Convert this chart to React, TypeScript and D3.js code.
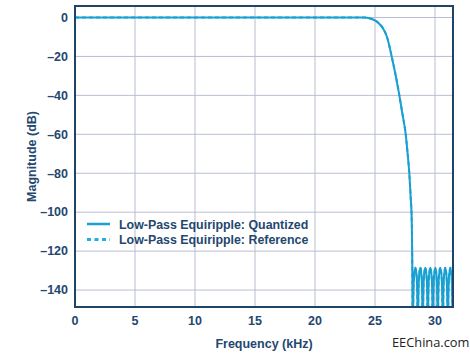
import React from "react";
import * as d3 from "d3";

const freqTicks = [0, 5, 10, 15, 20, 25, 30];
const magTicks = [0, -20, -40, -60, -80, -100, -120, -140];

// Quantized response: frequency (kHz) and magnitude (dB)
const quantFreq = [
  0, 24.0, 24.33, 24.6, 25.0, 25.35, 25.67, 26.0, 26.39, 26.7, 27.0, 27.3, 27.56, 27.72, 27.86, 27.97, 28.06, 28.1, 28.13, 28.15,
  28.19, 28.25, 28.36, 28.47, 28.53, 28.57,
  28.61, 28.67, 28.78, 28.88, 28.94, 28.98,
  29.02, 29.08, 29.19, 29.3, 29.36, 29.4,
  29.44, 29.5, 29.61, 29.72, 29.78, 29.82,
  29.86, 29.92, 30.03, 30.13, 30.19, 30.23,
  30.27, 30.33, 30.44, 30.55, 30.61, 30.65,
  30.69, 30.75, 30.86, 30.96, 31.02, 31.07,
  31.11, 31.17, 31.28, 31.38, 31.44, 31.48,
];
const quantMag = [
  0, 0, -0.1, -0.5, -1.5, -3.2, -5.6, -10, -20, -29, -39, -50, -60, -70, -80, -92, -104, -122, -150, -175,
  -145, -133, -128.5, -133, -145, -175,
  -145, -133, -128.5, -133, -145, -175,
  -145, -133, -128.5, -133, -145, -175,
  -145, -133, -128.5, -133, -145, -175,
  -145, -133, -128.5, -133, -145, -175,
  -145, -133, -128.5, -133, -145, -175,
  -145, -133, -128.5, -133, -145, -175,
  -145, -133, -128.5, -133, -145, -175,
];
// Reference response (coincides with quantized at this scale)
const refFreq = quantFreq;
const refMag = quantMag;

const seriesLabels = ["Low-Pass Equiripple: Quantized", "Low-Pass Equiripple: Reference"];

const W = 470;
const H = 356;
const L = 75, R = 453, T = 6, B = 307;
const navy = "#1e4468";
const textCol = "#23476f";
const lineCol = "#1a9fd1";
const gridCol = "#b9bdd0";
const font = "'Liberation Sans', Arial, Helvetica, sans-serif";

export default function App() {
  const x = d3.scaleLinear().domain([0, 31.5]).range([L, R]);
  const y = d3.scaleLinear().domain([5.9, -148.7]).range([T, B]);

  const line = d3
    .line<number>()
    .x((_, i) => x(quantFreq[i]))
    .y((d) => y(d))
    .curve(d3.curveMonotoneX);
  const refLine = d3
    .line<number>()
    .x((_, i) => x(refFreq[i]))
    .y((d) => y(d))
    .curve(d3.curveMonotoneX);

  return (
    <svg width={W} height={H} style={{ position: "absolute", left: 0, top: 0, background: "#fff" }}>
      <defs>
        <clipPath id="plot">
          <rect x={L} y={T} width={R - L} height={B - T} />
        </clipPath>
      </defs>
      <rect x={0} y={0} width={W} height={H} fill="#fff" />
      {/* grid */}
      {freqTicks.map((f) => (
        <line key={"gx" + f} x1={x(f)} x2={x(f)} y1={T} y2={B} stroke={gridCol} strokeWidth={1} />
      ))}
      {magTicks.map((m) => (
        <line key={"gy" + m} x1={L} x2={R} y1={y(m)} y2={y(m)} stroke={gridCol} strokeWidth={1} />
      ))}
      {/* curves */}
      <g clipPath="url(#plot)">
        <path d={refLine(refMag) || ""} fill="none" stroke="#22aee0" strokeWidth={2} strokeDasharray="4,3" />
        <path d={line(quantMag) || ""} fill="none" stroke={lineCol} strokeWidth={2} strokeLinejoin="round" />
      </g>
      {/* frame */}
      <rect x={L} y={T} width={R - L} height={B - T} fill="none" stroke={navy} strokeWidth={2} />
      {/* y tick labels */}
      {magTicks.map((m) => (
        <text
          key={"ty" + m}
          x={68}
          y={y(m) + 4.3}
          textAnchor="end"
          fontFamily={font}
          fontWeight="bold"
          fontSize={12.5}
          fill={textCol}
        >
          {m < 0 ? "\u2013" + Math.abs(m) : String(m)}
        </text>
      ))}
      {/* x tick labels */}
      {freqTicks.map((f) => (
        <text
          key={"tx" + f}
          x={x(f)}
          y={325}
          textAnchor="middle"
          fontFamily={font}
          fontWeight="bold"
          fontSize={12.5}
          fill={textCol}
        >
          {f}
        </text>
      ))}
      {/* axis titles */}
      <text x={(L + R) / 2} y={348} textAnchor="middle" fontFamily={font} fontWeight="bold" fontSize={12.5} fill={textCol}>
        Frequency (kHz)
      </text>
      <text
        transform={`translate(35.5,${(T + B) / 2}) rotate(-90)`}
        textAnchor="middle"
        fontFamily={font}
        fontWeight="bold"
        fontSize={12.5}
        fill={textCol}
      >
        Magnitude (dB)
      </text>
      {/* legend */}
      <line x1={87} x2={110} y1={224} y2={224} stroke={lineCol} strokeWidth={2.5} />
      <line x1={87} x2={110} y1={239.5} y2={239.5} stroke="#22aee0" strokeWidth={3} strokeDasharray="4,3.5" />
      {seriesLabels.map((s, i) => (
        <text
          key={s}
          x={119}
          y={228.5 + i * 15.5}
          fontFamily={font}
          fontWeight="bold"
          fontSize={12.4}
          fill={textCol}
        >
          {s}
        </text>
      ))}
      {/* watermark */}
      <text x={392} y={347} fontFamily="'Open Sans', Arial, sans-serif" fontSize={12.8} fill="#222">
        EEChina.com
      </text>
    </svg>
  );
}
